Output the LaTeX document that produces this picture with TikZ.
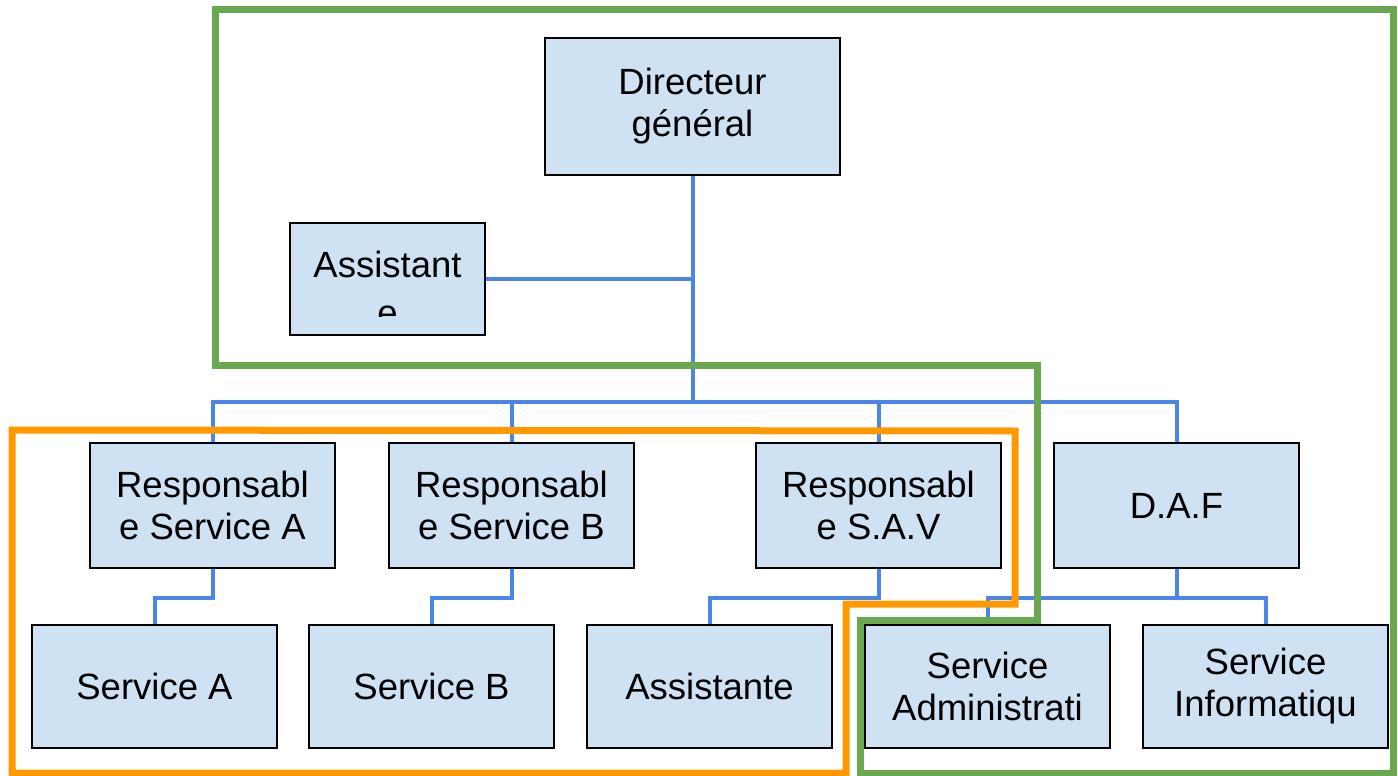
\documentclass[tikz,border=0pt]{standalone}
\usepackage{fontspec}
\setmainfont{Liberation Sans}
\definecolor{boxfill}{HTML}{CFE2F3}
\definecolor{connblue}{HTML}{4A86E8}
\definecolor{grpgreen}{HTML}{6AA84F}
\definecolor{grporange}{HTML}{FF9900}
\begin{document}
\begin{tikzpicture}[x=1pt,y=-1pt,
  boxfont/.style={font=\fontsize{36.5}{42}\selectfont},
  box/.style={draw=black,line width=1.5pt,fill=boxfill,minimum width=245pt,minimum height=125pt,inner sep=0pt,align=center,boxfont},
  lowbox/.style={box,minimum height=123pt},
  conn/.style={draw=connblue,line width=4pt},
  grpline/.style={line width=7pt,line join=miter}]
\useasboundingbox (0,0) rectangle (1398,776);
\fill[white] (0,0) rectangle (1398,776);
% nodes
\node[box,minimum width=295pt,minimum height=137pt] (dg) at (692.5,106.5) {\raisebox{-3pt}{\parbox{280pt}{\centering Directeur\\général}}};
\node[box,minimum width=195pt,minimum height=112pt] (asst) at (387.5,279) {};
\begin{scope}
\clip (290,223) rectangle (485,316);
\node[anchor=base,inner sep=0pt,boxfont] (assttxt) at (387.5,277) {Assistant};
\node[anchor=base,inner sep=0pt,boxfont] (assttxtb) at (387.5,325) {e};
\end{scope}
\node[box] (ra) at (212.5,505.5) {Responsabl\\e Service A};
\node[box] (rb) at (511.5,505.5) {Responsabl\\e Service B};
\node[box] (rsav) at (878.5,505.5) {Responsabl\\e S.A.V};
\node[box] (daf) at (1176.5,505.5) {D.A.F};
\node[lowbox] (sa) at (154.5,686.5) {\raisebox{-2pt}{Service A}};
\node[lowbox] (sb) at (431.5,686.5) {\raisebox{-2pt}{Service B}};
\node[lowbox] (asst2) at (709.5,686.5) {\raisebox{-2pt}{Assistante}};
\node[lowbox] (sadm) at (987.5,686.5) {\raisebox{-3pt}{\parbox{240pt}{\centering Service\\Administrati}}};
\node[lowbox] (sinf) at (1265.5,686.5) {\raisebox{-3pt}{\parbox{240pt}{\centering Service\\Informatiqu}}};
% connectors
\coordinate (bus) at (692.5,402);
\draw[conn] (dg.south) -- (bus);
\draw[conn] (asst.east) -- (asst.east -| dg.south);
\draw[conn] (ra.north) |- (bus);
\draw[conn] (rb.north) |- (bus);
\draw[conn] (rsav.north) |- (bus);
\draw[conn] (daf.north) |- (bus);
\draw[conn] (ra.south) -- ++(0,29) -| (sa.north);
\draw[conn] (rb.south) -- ++(0,29) -| (sb.north);
\draw[conn] (rsav.south) -- ++(0,29) -| (asst2.north);
\draw[conn] (daf.south) -- ++(0,29) coordinate (dafj);
\draw[conn] (dafj) -| (sadm.north);
\draw[conn] (dafj) -| (sinf.north);
% group outlines
\draw[grpline,draw=grpgreen] (215,365) -- (215,10) -- (1393,10) -- (1393,773) -- (860,773) -- (860,620) -- (1037,620) -- (1037,365) -- cycle;
\draw[grpline,draw=grporange] (12,430) -- (1015,431) -- (1015,604) -- (846,604) -- (846,773) -- (12,773) -- cycle;
\end{tikzpicture}
\end{document}
